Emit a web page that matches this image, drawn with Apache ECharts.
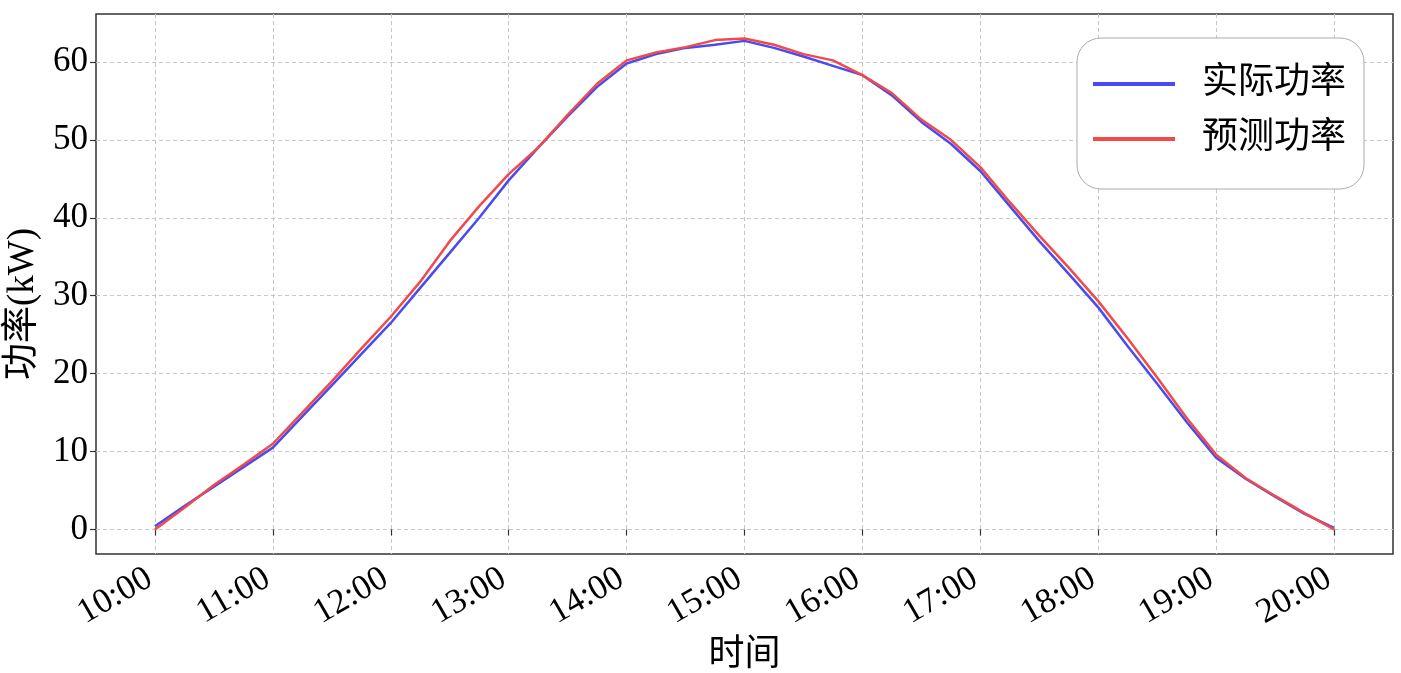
<!DOCTYPE html>
<html>
<head>
<meta charset="utf-8">
<title>功率</title>
<script src="https://cdn.jsdelivr.net/npm/echarts@6/dist/echarts.min.js"></script>
<style>
  html, body { margin: 0; padding: 0; background: #fff; }
  #chart { width: 1401px; height: 673px; }
</style>
</head>
<body>
<div id="chart"></div>
<script>
// 15-minute samples from 10:00 to 20:00
const times = [
  "10:00", "10:15", "10:30", "10:45", "11:00", "11:15", "11:30", "11:45",
  "12:00", "12:15", "12:30", "12:45", "13:00", "13:15", "13:30", "13:45",
  "14:00", "14:15", "14:30", "14:45", "15:00", "15:15", "15:30", "15:45",
  "16:00", "16:15", "16:30", "16:45", "17:00", "17:15", "17:30", "17:45",
  "18:00", "18:15", "18:30", "18:45", "19:00", "19:15", "19:30", "19:45", "20:00"
];
const actualPower = [
  0.4, 3.0, 5.5, 8.0, 10.5, 14.5, 18.5, 22.5,
  26.5, 31.0, 35.5, 40.0, 44.8, 49.0, 53.0, 56.8,
  59.8, 61.0, 61.8, 62.2, 62.7, 61.8, 60.7, 59.5,
  58.3, 55.7, 52.3, 49.5, 46.0, 41.5, 37.0, 32.8,
  28.5, 23.5, 18.7, 13.8, 9.2, 6.5, 4.2, 2.0, 0.2
];
const predictedPower = [
  0.0, 2.8, 5.7, 8.3, 11.0, 15.0, 19.0, 23.2,
  27.3, 31.8, 37.0, 41.5, 45.6, 49.0, 53.2, 57.2,
  60.2, 61.2, 61.9, 62.8, 63.0, 62.2, 61.0, 60.2,
  58.3, 56.0, 52.6, 50.0, 46.5, 42.0, 37.7, 33.6,
  29.3, 24.5, 19.5, 14.3, 9.6, 6.6, 4.3, 2.1, 0.0
];
const hourTicks = [10, 11, 12, 13, 14, 15, 16, 17, 18, 19, 20];
const yTicks = [0, 10, 20, 30, 40, 50, 60];

const toHours = (t) => {
  const [h, m] = t.split(":").map(Number);
  return h + m / 60;
};
const pair = (vals) => times.map((t, i) => [toHours(t), vals[i]]);

const serif = "'Liberation Serif', 'Times New Roman', 'Noto Sans CJK SC', serif";
const gridLine = { show: true, lineStyle: { color: "#c8c8c8", type: [4, 3], width: 1 } };

const chart = echarts.init(document.getElementById("chart"));
chart.setOption({
  animation: false,
  textStyle: { fontFamily: serif },
  grid: {
    left: 96, right: 8, top: 14, bottom: 119,
    outerBoundsMode: "none",
    show: true, borderColor: "#333", borderWidth: 1.5
  },
  legend: {
    right: 37, top: 38,
    orient: "vertical",
    icon: "rect",
    itemWidth: 82, itemHeight: 4,
    itemGap: 19,
    padding: [28, 18, 32, 16],
    backgroundColor: "#fff",
    borderColor: "#aaa", borderWidth: 1, borderRadius: 24,
    textStyle: { fontSize: 36, color: "#000", padding: [0, 0, 0, 22], fontFamily: serif },
    data: ["实际功率", "预测功率"]
  },
  xAxis: {
    type: "value",
    min: 9.5, max: 20.5,
    name: "时间",
    nameLocation: "middle",
    nameGap: 80,
    nameTextStyle: { fontSize: 36, color: "#000" },
    axisLine: { show: false },
    axisTick: { show: true, customValues: hourTicks, length: 6, lineStyle: { color: "#333", width: 1.2 } },
    axisLabel: {
      customValues: hourTicks,
      rotate: 30, margin: 19,
      padding: [0, 6, 0, 0],
      fontSize: 35, color: "#000",
      formatter: (v) => `${v}:00`
    },
    splitLine: gridLine
  },
  yAxis: {
    type: "value",
    min: -3.15, max: 66.15,
    name: "功率(kW)",
    nameLocation: "middle",
    nameGap: 50,
    nameTextStyle: { fontSize: 37, color: "#000", padding: [0, 40, 0, 0] },
    axisLine: { show: false },
    axisTick: { show: true, customValues: yTicks, length: 6, lineStyle: { color: "#333", width: 1.2 } },
    axisLabel: { customValues: yTicks, fontSize: 35, color: "#000", margin: 8 },
    splitLine: gridLine
  },
  series: [
    {
      name: "实际功率",
      type: "line",
      data: pair(actualPower),
      showSymbol: false,
      color: "#4a4af2",
      lineStyle: { width: 2.5, color: "#4a4af2" }
    },
    {
      name: "预测功率",
      type: "line",
      data: pair(predictedPower),
      showSymbol: false,
      color: "#f04a4a",
      lineStyle: { width: 2.5, color: "#f04a4a" }
    }
  ]
});
</script>
</body>
</html>
